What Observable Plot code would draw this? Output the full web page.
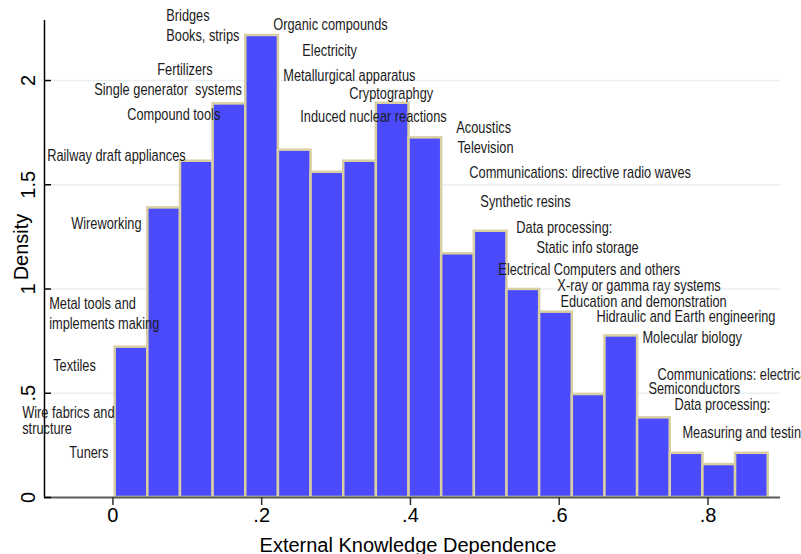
<!DOCTYPE html>
<html>
<head>
<meta charset="utf-8">
<script src="https://cdn.jsdelivr.net/npm/d3@7"></script>
<script src="https://cdn.jsdelivr.net/npm/@observablehq/plot@0.6"></script>
<style>
  html, body { margin: 0; padding: 0; background: white; overflow: hidden; }
  svg { overflow: hidden; }
</style>
</head>
<body>
<div id="chart"></div>
<script>
// Histogram bin edges (External Knowledge Dependence)
const binEdges = [0.003, 0.0469, 0.0908, 0.1347, 0.1786, 0.2225, 0.2664, 0.3103, 0.3542, 0.3981,
                  0.442, 0.4859, 0.5298, 0.5737, 0.6176, 0.6615, 0.7054, 0.7493, 0.7932, 0.8371, 0.881];
// Density of each bin
const densities = [0.721, 1.389, 1.613, 1.888, 2.216, 1.666, 1.560, 1.613, 1.891, 1.725,
                   1.169, 1.277, 0.998, 0.889, 0.494, 0.775, 0.382, 0.212, 0.158, 0.212];

// Axis ticks
const xTicks = [0, 0.2, 0.4, 0.6, 0.8];
const xTickLabels = ["0", ".2", ".4", ".6", ".8"];
const yTicks = [0, 0.5, 1, 1.5, 2];
const yTickLabels = ["0", ".5", "1", "1.5", "2"];
const yGrid = [0.5, 1, 1.5, 2];

// Annotation labels: text, x (data), y (data)
const labelTexts = [
  "Bridges", "Books, strips", "Organic compounds", "Electricity", "Fertilizers",
  "Metallurgical apparatus", "Single generator  systems", "Cryptographgy", "Compound tools",
  "Induced nuclear reactions", "Acoustics", "Television", "Railway draft appliances",
  "Communications: directive radio waves", "Synthetic resins", "Wireworking", "Data processing:",
  "Static info storage", "Electrical Computers and others", "X-ray or gamma ray systems",
  "Metal tools and", "Education and demonstration", "Hidraulic and Earth engineering",
  "implements making", "Molecular biology", "Textiles", "Communications: electrical",
  "Semiconductors", "Wire fabrics and", "Data processing:", "structure",
  "Measuring and testing", "Tuners"
];
const labelX = [
  0.0717, 0.0717, 0.2156, 0.2546, 0.0596,
  0.2290, -0.0252, 0.3178, 0.0192,
  0.2519, 0.4617, 0.4631, -0.0884,
  0.4792, 0.4940, -0.0561, 0.5424,
  0.5693, 0.5182, 0.5975,
  -0.0857, 0.6016, 0.6500,
  -0.0857, 0.7119, -0.0803, 0.7321,
  0.7200, -0.1220, 0.7549, -0.1220,
  0.7656, -0.0588
];
const labelY = [
  2.312, 2.216, 2.269, 2.144, 2.053,
  2.024, 1.957, 1.938, 1.837,
  1.827, 1.775, 1.679, 1.640,
  1.559, 1.420, 1.314, 1.295,
  1.199, 1.094, 1.017,
  0.930, 0.940, 0.868,
  0.835, 0.767, 0.633, 0.590,
  0.523, 0.408, 0.446, 0.331,
  0.312, 0.216
];

const bins = densities.map((d, i) => ({x1: binEdges[i], x2: binEdges[i + 1], y: d}));
const labels = labelTexts.map((t, i) => ({text: t, x: labelX[i], y: labelY[i]}));

const W = 801, H = 554, mL = 44, mR = 21, mT = 20, mB = 57;
const xMin = -0.092, xMax = 0.8975;
const LABEL_FILL = "#1b1b1b";

const chart = Plot.plot({
  width: W, height: H,
  marginLeft: mL, marginRight: mR, marginTop: mT, marginBottom: mB,
  style: {fontFamily: "'Liberation Sans', Arial, sans-serif", background: "white", color: "#000"},
  x: {domain: [xMin, xMax]},
  y: {domain: [0, 2.288], axis: null},
  marks: [
    Plot.ruleY(yGrid, {stroke: "#e8eef2", strokeWidth: 1.5, insetLeft: 7}),
    Plot.rectY(bins, {x1: "x1", x2: "x2", y: "y", fill: "#4b4bfd", stroke: "#d8cfa2", strokeWidth: 2.5}),
    Plot.ruleX([xMin], {stroke: "#000", strokeWidth: 1.5}),
    Plot.ruleY([0], {stroke: "#5a5a5a", strokeWidth: 2}),
    Plot.ruleY(yTicks, {stroke: "#000", strokeWidth: 1.5, insetRight: W - mL - mR - 7}),
    Plot.text(yTicks, {x: xMin, y: d => d, text: (d, i) => yTickLabels[i], rotate: -90,
      dx: -10, lineAnchor: "bottom", textAnchor: "middle", fontSize: 20, fill: "#000"}),
    Plot.axisX({ticks: xTicks, tickFormat: d => xTickLabels[xTicks.indexOf(d)], tickSize: 8,
      tickPadding: 2, fontSize: 20, label: null, stroke: "#333", strokeWidth: 1.5, color: "#000"}),
    Plot.text(["External Knowledge Dependence"], {frameAnchor: "bottom", dy: 54, dx: -4.5,
      lineAnchor: "bottom", textAnchor: "middle", fontSize: 20, fill: "#000"}),
    Plot.text(["Density"], {frameAnchor: "left", dx: -17, dy: -12, rotate: -90,
      lineAnchor: "bottom", textAnchor: "middle", fontSize: 20, fill: "#000"}),
    Plot.text(labels, {x: "x", y: "y", text: "text", textAnchor: "start", lineAnchor: "middle",
      fontSize: 16, fill: LABEL_FILL,
      fontFamily: "'Liberation Sans', Arial, sans-serif"})
  ]
});
// condense annotation labels horizontally (narrow type like the original)
d3.select(chart).selectAll("text").each(function () {
  const g = this.closest("g");
  const fill = this.getAttribute("fill") || (g && g.getAttribute("fill"));
  if (fill !== LABEL_FILL) return;
  const t = this.getAttribute("transform");
  if (t) {
    this.setAttribute("transform", t + " scale(0.8,1)");
  } else {
    const x = +this.getAttribute("x") || 0, y = +this.getAttribute("y") || 0;
    this.setAttribute("transform", `translate(${x},${y}) scale(0.8,1) translate(${-x},${-y})`);
  }
});
document.getElementById("chart").appendChild(chart);
</script>
</body>
</html>
